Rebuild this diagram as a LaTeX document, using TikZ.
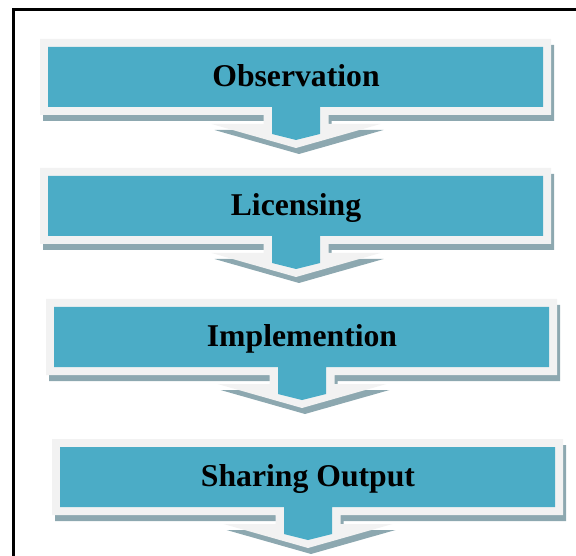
\documentclass[tikz,border=0pt]{standalone}
\usepackage{fontspec}
\setmainfont{Liberation Serif}
\usepackage{xcolor}
\usepackage{tikz}
\definecolor{boxblue}{RGB}{75,172,198}
\definecolor{rimgray}{RGB}{242,242,242}
\definecolor{shadowgray}{RGB}{141,168,176}
\tikzstyle{shadowfill} = [fill=shadowgray]
\tikzstyle{rimfill} = [fill=rimgray]
\tikzstyle{facefill} = [fill=boxblue]
\tikzstyle{stagetext} = [font=\fontsize{31.7}{36}\selectfont\bfseries, text=black, inner sep=0pt, anchor=base]

\begin{document}
\begin{tikzpicture}[x=1pt, y=-1pt]
            \useasboundingbox (0,0) rectangle (576,556);
            % outer frame, cut off at right and bottom
            \draw[line width=2.7pt] (13.8,556) -- (13.8,9.3) -- (576,9.3);
            \foreach \l/\t/\txt [evaluate=\l as \r using \l+495,
                    evaluate=\l as \c using \l+248,
                    evaluate=\t as \b using \t+60, count=\i]
                    in {48/47/Observation, 48/176/Licensing,
                        54/307/Implemention, 60/447/Sharing Output} {
                % shadow
                \fill[shadowfill, shift={(3,6)}] (\l-8,\t-8) -- (\r+8,\t-8) -- (\r+8,\b+8)
                    -- (\c+32.5,\b+8) -- (\c+32.5,\b+17) -- (\c+84.5,\b+17) -- (\c,\b+41)
                    -- (\c-84.5,\b+17) -- (\c-32.5,\b+17) -- (\c-32.5,\b+8) -- (\l-8,\b+8) -- cycle;
                % light rim
                \fill[rimfill] (\l-8,\t-8) -- (\r+8,\t-8) -- (\r+8,\b+8)
                    -- (\c+32.5,\b+8) -- (\c+32.5,\b+17) -- (\c+84.5,\b+17) -- (\c,\b+41)
                    -- (\c-84.5,\b+17) -- (\c-32.5,\b+17) -- (\c-32.5,\b+8) -- (\l-8,\b+8) -- cycle;
                % blue face
                \fill[facefill] (\l,\t) -- (\r,\t) -- (\r,\b) -- (\c+24,\b) -- (\c+24,\b+27)
                    -- (\c,\b+33) -- (\c-24,\b+27) -- (\c-24,\b) -- (\l,\b) -- cycle;
                \node[stagetext] (stage\i) at (\c,\t+39.5) {\txt};
            }
        \end{tikzpicture}
\end{document}
